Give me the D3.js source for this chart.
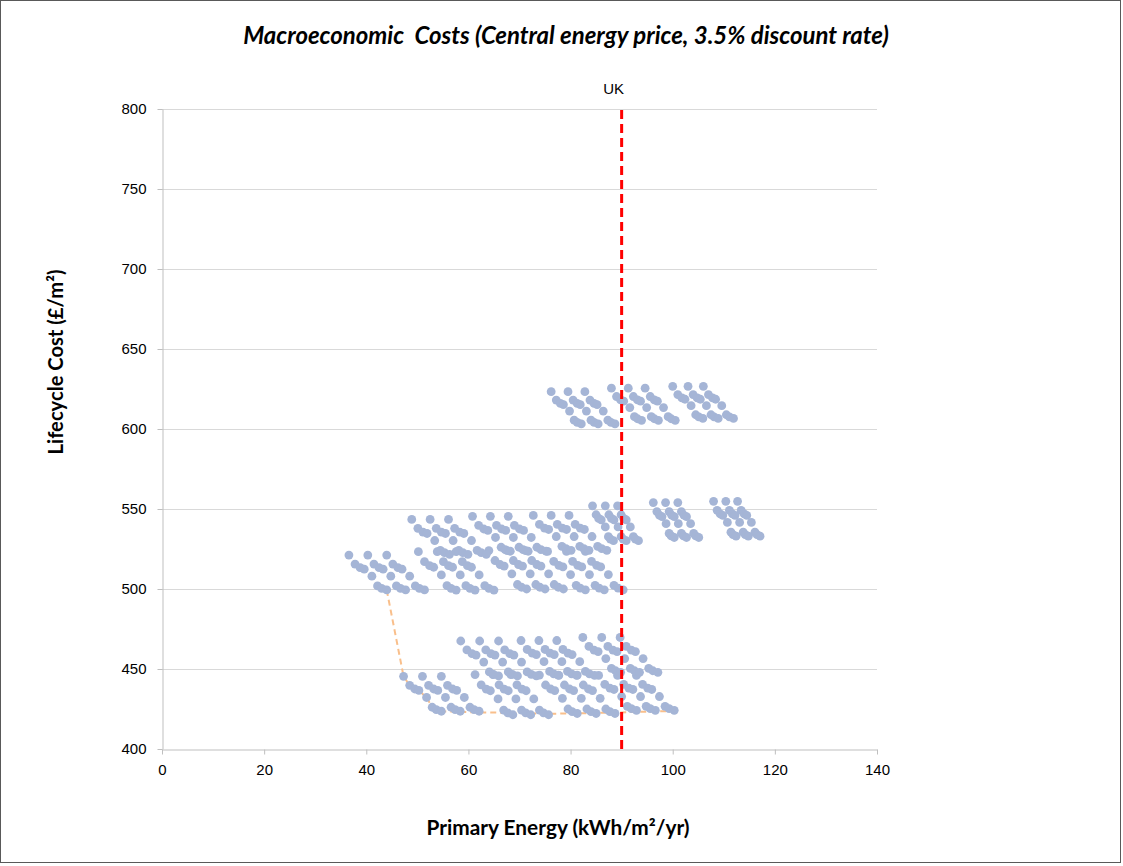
<!DOCTYPE html>
<html><head><meta charset="utf-8">
<script src="https://cdn.jsdelivr.net/npm/d3@7"></script>
<style>body{margin:0;background:#fff}</style>
</head><body>
<svg id="c" width="1123" height="866"></svg>
<script>
const xTicks = [0, 20, 40, 60, 80, 100, 120, 140];
const yTicks = [400, 450, 500, 550, 600, 650, 700, 750, 800];
const ukEnergy = 90;
const titleText = "Macroeconomic  Costs (Central energy price, 3.5% discount rate)";
const xTitle = "Primary Energy (kWh/m²/yr)";
const yTitle = "Lifecycle Cost (£/m²)";

// scatter groups: [primary energy, lifecycle cost]
const groupL0 = [[36.6,521.2],[37.8,515.6],[38.8,513.3],[39.6,512.4],[41.1,508.0],[42.2,501.9],[43.0,500.4],[44.0,499.4],
[40.3,521.2],[41.5,515.6],[42.5,513.3],[43.3,512.4],[44.8,508.0],[45.9,501.9],[46.7,500.4],[47.7,499.4],
[44.0,521.2],[45.2,515.6],[46.2,513.3],[47.0,512.4],[48.5,508.0],[49.6,501.9],[50.4,500.4],[51.4,499.4]];
const groupL1 = [[50.2,523.3],[51.4,517.1],[52.4,514.6],[53.2,513.6],[54.7,508.8],[55.8,502.1],[56.6,500.4],[57.6,499.3],
[53.9,523.3],[55.1,517.1],[56.1,514.6],[56.9,513.6],[58.4,508.8],[59.5,502.1],[60.3,500.4],[61.3,499.3],
[57.6,523.3],[58.8,517.1],[59.8,514.6],[60.6,513.6],[62.1,508.8],[63.2,502.1],[64.0,500.4],[65.0,499.3]];
const groupL2 = [[64.0,524.0],[65.2,517.8],[66.2,515.3],[67.0,514.3],[68.5,509.5],[69.6,502.8],[70.4,501.1],[71.4,500.0],
[67.6,524.0],[68.8,517.8],[69.8,515.3],[70.6,514.3],[72.1,509.5],[73.2,502.8],[74.0,501.1],[75.0,500.0],
[71.2,524.0],[72.4,517.8],[73.4,515.3],[74.2,514.3],[75.7,509.5],[76.8,502.8],[77.6,501.1],[78.6,500.0]];
const groupL3 = [[75.5,523.5],[76.7,517.3],[77.7,514.8],[78.5,513.8],[80.0,509.0],[81.1,502.3],[81.9,500.6],[82.9,499.5],
[79.2,523.5],[80.4,517.3],[81.4,514.8],[82.2,513.8],[83.7,509.0],[84.8,502.3],[85.6,500.6],[86.6,499.5],
[82.9,523.5],[84.1,517.3],[85.1,514.8],[85.9,513.8],[87.4,509.0],[88.5,502.3],[89.3,500.6],[90.3,499.5]];
const groupM1 = [[48.9,543.5],[50.1,537.9],[51.1,535.6],[51.9,534.7],[53.4,530.3],[54.5,524.2],[55.3,522.7],[56.3,521.7],
[52.5,543.5],[53.7,537.9],[54.7,535.6],[55.5,534.7],[57.0,530.3],[58.1,524.2],[58.9,522.7],[59.9,521.7],
[56.1,543.5],[57.3,537.9],[58.3,535.6],[59.1,534.7],[60.6,530.3],[61.7,524.2],[62.5,522.7],[63.5,521.7]];
const groupM2 = [[60.8,545.4],[62.0,539.8],[63.0,537.5],[63.8,536.6],[65.3,532.2],[66.4,526.1],[67.2,524.6],[68.2,523.6],
[64.3,545.4],[65.5,539.8],[66.5,537.5],[67.3,536.6],[68.8,532.2],[69.9,526.1],[70.7,524.6],[71.7,523.6],
[67.8,545.4],[69.0,539.8],[70.0,537.5],[70.8,536.6],[72.3,532.2],[73.4,526.1],[74.2,524.6],[75.2,523.6]];
const groupM3 = [[72.7,546.0],[73.9,540.4],[74.9,538.1],[75.7,537.2],[77.2,532.8],[78.3,526.7],[79.1,525.2],[80.1,524.2],
[76.2,546.0],[77.4,540.4],[78.4,538.1],[79.2,537.2],[80.7,532.8],[81.8,526.7],[82.6,525.2],[83.6,524.2],
[79.7,546.0],[80.9,540.4],[81.9,538.1],[82.7,537.2],[84.2,532.8],[85.3,526.7],[86.1,525.2],[87.1,524.2]];
const groupM4 = [[84.3,552.0],[85.0,546.4],[85.5,544.1],[86.0,543.2],[86.8,538.8],[87.4,532.7],[87.8,531.2],[88.4,530.2],
[86.8,552.0],[87.5,546.4],[88.0,544.1],[88.5,543.2],[89.3,538.8],[89.9,532.7],[90.3,531.2],[90.9,530.2],
[89.2,552.0],[89.9,546.4],[90.4,544.1],[90.9,543.2],[91.7,538.8],[92.3,532.7],[92.7,531.2],[93.3,530.2]];
const groupM5 = [[96.2,554.0],[96.9,548.4],[97.4,546.1],[97.9,545.2],[98.7,540.8],[99.3,534.7],[99.7,533.2],[100.3,532.2],
[98.6,554.0],[99.3,548.4],[99.8,546.1],[100.3,545.2],[101.1,540.8],[101.7,534.7],[102.1,533.2],[102.7,532.2],
[101.0,554.0],[101.7,548.4],[102.2,546.1],[102.7,545.2],[103.5,540.8],[104.1,534.7],[104.5,533.2],[105.1,532.2]];
const groupM6 = [[108.0,554.8],[108.7,549.2],[109.3,546.9],[109.8,546.0],[110.7,541.6],[111.4,535.5],[111.8,534.0],[112.4,533.0],
[110.4,554.8],[111.1,549.2],[111.7,546.9],[112.2,546.0],[113.1,541.6],[113.8,535.5],[114.2,534.0],[114.8,533.0],
[112.7,554.8],[113.4,549.2],[114.0,546.9],[114.5,546.0],[115.4,541.6],[116.1,535.5],[116.5,534.0],[117.1,533.0]];
const groupTA = [[76.2,623.3],[77.2,618.1],[78.0,616.0],[78.6,615.2],[79.8,611.2],[80.7,605.5],[81.3,604.2],[82.1,603.2],
[79.5,623.3],[80.5,618.1],[81.3,616.0],[81.9,615.2],[83.1,611.2],[84.0,605.5],[84.6,604.2],[85.4,603.2],
[82.8,623.3],[83.8,618.1],[84.6,616.0],[85.2,615.2],[86.4,611.2],[87.3,605.5],[87.9,604.2],[88.7,603.2]];
const groupTB = [[88.0,625.5],[89.0,620.3],[89.8,618.2],[90.4,617.4],[91.6,613.4],[92.5,607.7],[93.1,606.4],[93.9,605.4],
[91.3,625.5],[92.3,620.3],[93.1,618.2],[93.7,617.4],[94.9,613.4],[95.8,607.7],[96.4,606.4],[97.2,605.4],
[94.6,625.5],[95.6,620.3],[96.4,618.2],[97.0,617.4],[98.2,613.4],[99.1,607.7],[99.7,606.4],[100.5,605.4]];
const groupTC = [[100.0,626.7],[101.0,621.5],[101.8,619.4],[102.4,618.6],[103.6,614.6],[104.5,608.9],[105.1,607.6],[105.9,606.6],
[103.0,626.7],[104.0,621.5],[104.8,619.4],[105.4,618.6],[106.6,614.6],[107.5,608.9],[108.1,607.6],[108.9,606.6],
[106.0,626.7],[107.0,621.5],[107.8,619.4],[108.4,618.6],[109.6,614.6],[110.5,608.9],[111.1,607.6],[111.9,606.6]];
const groupBL1 = [[47.3,445.4],[48.5,439.8],[49.5,437.5],[50.3,436.6],[51.8,432.2],[52.9,426.1],[53.7,424.6],[54.7,423.6],
[51.0,445.4],[52.2,439.8],[53.2,437.5],[54.0,436.6],[55.5,432.2],[56.6,426.1],[57.4,424.6],[58.4,423.6],
[54.7,445.4],[55.9,439.8],[56.9,437.5],[57.7,436.6],[59.2,432.2],[60.3,426.1],[61.1,424.6],[62.1,423.6]];
const groupBL2 = [[61.3,446.5],[62.5,440.1],[63.5,437.4],[64.3,436.4],[65.8,431.3],[66.9,424.3],[67.7,422.6],[68.7,421.4],
[64.8,446.5],[66.0,440.1],[67.0,437.4],[67.8,436.4],[69.3,431.3],[70.4,424.3],[71.2,422.6],[72.2,421.4],
[68.3,446.5],[69.5,440.1],[70.5,437.4],[71.3,436.4],[72.8,431.3],[73.9,424.3],[74.7,422.6],[75.7,421.4]];
const groupBL3 = [[73.9,446.2],[75.1,440.0],[76.1,437.5],[76.9,436.5],[78.4,431.7],[79.5,425.0],[80.3,423.3],[81.3,422.2],
[77.6,446.2],[78.8,440.0],[79.8,437.5],[80.6,436.5],[82.1,431.7],[83.2,425.0],[84.0,423.3],[85.0,422.2],
[81.3,446.2],[82.5,440.0],[83.5,437.5],[84.3,436.5],[85.8,431.7],[86.9,425.0],[87.7,423.3],[88.7,422.2]];
const groupBL4 = [[85.5,446.0],[86.7,440.4],[87.7,438.1],[88.5,437.2],[90.0,432.8],[91.1,426.7],[91.9,425.2],[92.9,424.2],
[89.2,446.0],[90.4,440.4],[91.4,438.1],[92.2,437.2],[93.7,432.8],[94.8,426.7],[95.6,425.2],[96.6,424.2],
[92.9,446.0],[94.1,440.4],[95.1,438.1],[95.9,437.2],[97.4,432.8],[98.5,426.7],[99.3,425.2],[100.3,424.2]];
const groupBU2 = [[58.5,467.5],[59.7,461.9],[60.7,459.6],[61.5,458.7],[63.0,454.3],[64.1,448.2],[64.9,446.7],[65.9,445.7],
[62.2,467.5],[63.4,461.9],[64.4,459.6],[65.2,458.7],[66.7,454.3],[67.8,448.2],[68.6,446.7],[69.6,445.7],
[65.9,467.5],[67.1,461.9],[68.1,459.6],[68.9,458.7],[70.4,454.3],[71.5,448.2],[72.3,446.7],[73.3,445.7]];
const groupBU3 = [[70.3,467.8],[71.5,462.2],[72.5,459.9],[73.3,459.0],[74.8,454.6],[75.9,448.5],[76.7,447.0],[77.7,446.0],
[73.8,467.8],[75.0,462.2],[76.0,459.9],[76.8,459.0],[78.3,454.6],[79.4,448.5],[80.2,447.0],[81.2,446.0],
[77.3,467.8],[78.5,462.2],[79.5,459.9],[80.3,459.0],[81.8,454.6],[82.9,448.5],[83.7,447.0],[84.7,446.0]];
const groupBU4 = [[82.4,469.7],[83.6,464.1],[84.6,461.8],[85.4,460.9],[86.9,456.5],[88.0,450.4],[88.8,448.9],[89.8,447.9],
[86.1,469.7],[87.3,464.1],[88.3,461.8],[89.1,460.9],[90.6,456.5],[91.7,450.4],[92.5,448.9],[93.5,447.9],
[89.7,469.7],[90.9,464.1],[91.9,461.8],[92.7,460.9],[94.2,456.5],[95.3,450.4],[96.1,448.9],[97.1,447.9]];
// cost-optimal front
const costFront = [[44.0,499.4],[47.3,445.4],[48.5,439.8],[50.3,436.6],[51.8,432.2],[52.9,426.1],[54.7,423.6],
[61.5,422.9],[68.7,422.6],[75.7,422.0],[81.3,422.3],[88.7,422.8],[100.3,423.8]];

const allGroups = [groupL0, groupL1, groupL2, groupL3, groupM1, groupM2, groupM3, groupM4, groupM5, groupM6,
  groupTA, groupTB, groupTC, groupBL1, groupBL2, groupBL3, groupBL4, groupBU2, groupBU3, groupBU4];

const svg = d3.select('#c');
const x = d3.scaleLinear().domain([0, 140]).range([162, 877]);
const y = d3.scaleLinear().domain([400, 800]).range([749, 109]);

svg.append('rect').attr('x', 0.5).attr('y', 0.5).attr('width', 1120).attr('height', 862)
  .attr('fill', '#fff').attr('stroke', '#595959').attr('stroke-width', 1);

// gridlines
svg.append('g').selectAll('line').data(yTicks.filter(d => d > 400)).join('line')
  .attr('x1', x(0)).attr('x2', x(140)).attr('y1', d => Math.round(y(d)) + 0.5).attr('y2', d => Math.round(y(d)) + 0.5)
  .attr('stroke', '#d9d9d9').attr('stroke-width', 1);

const tickFont = '"Liberation Sans", Arial, sans-serif';
const gx = svg.append('g').attr('transform', `translate(0,${y(400) + 0.5})`)
  .call(d3.axisBottom(x).tickValues(xTicks).tickSize(5).tickPadding(10).tickSizeOuter(0));
const gy = svg.append('g').attr('transform', `translate(${x(0) + 0.5},0)`)
  .call(d3.axisLeft(y).tickValues(yTicks).tickSize(5).tickPadding(11).tickSizeOuter(0));
[gx, gy].forEach(g => {
  g.select('.domain').attr('stroke', '#bfbfbf');
  g.selectAll('.tick line').attr('stroke', '#bfbfbf');
  g.selectAll('.tick text').attr('fill', '#000').style('font-family', tickFont).style('font-size', '15px');
});

// cost-optimal line
svg.append('path').datum(costFront)
  .attr('d', d3.line().x(d => x(d[0])).y(d => y(d[1])))
  .attr('fill', 'none').attr('stroke', '#f9bf8b').attr('stroke-width', 2).attr('stroke-dasharray', '6,4');

// dots
svg.append('g').selectAll('circle').data(allGroups.flat()).join('circle')
  .attr('cx', d => x(d[0])).attr('cy', d => y(d[1])).attr('r', 4.4)
  .attr('fill', '#a5b5d6');

// UK line
svg.append('line').attr('x1', x(ukEnergy)).attr('x2', x(ukEnergy)).attr('y1', y(400)).attr('y2', y(800))
  .attr('stroke', '#ff0000').attr('stroke-width', 3).attr('stroke-dasharray', '9,5');
svg.append('text').attr('x', x(ukEnergy) - 8).attr('y', 94).attr('text-anchor', 'middle')
  .style('font-family', tickFont).style('font-size', '15px').attr('fill', '#000').text('UK');

function fit(sel, target) {
  const w = sel.node().getComputedTextLength();
  const fs = parseFloat(sel.style('font-size'));
  sel.style('font-size', (fs * target / w) + 'px');
}
const hFont = 'Lato, "Open Sans", sans-serif';
const t = svg.append('text').attr('x', 566).attr('y', 44).attr('text-anchor', 'middle')
  .style('font-family', hFont).style('font-size', '21px').style('font-weight', 'bold').style('font-style', 'italic')
  .style('white-space', 'pre').attr('fill', '#000').text(titleText);
fit(t, 646);
const xt = svg.append('text').attr('x', 558).attr('y', 835).attr('text-anchor', 'middle')
  .style('font-family', hFont).style('font-size', '18px').style('font-weight', 'bold').attr('fill', '#000').text(xTitle);
fit(xt, 263);
const yt = svg.append('text').attr('transform', 'translate(63,362) rotate(-90)').attr('text-anchor', 'middle')
  .style('font-family', hFont).style('font-size', '18px').style('font-weight', 'bold').attr('fill', '#000').text(yTitle);
fit(yt, 185);
</script>
</body></html>
